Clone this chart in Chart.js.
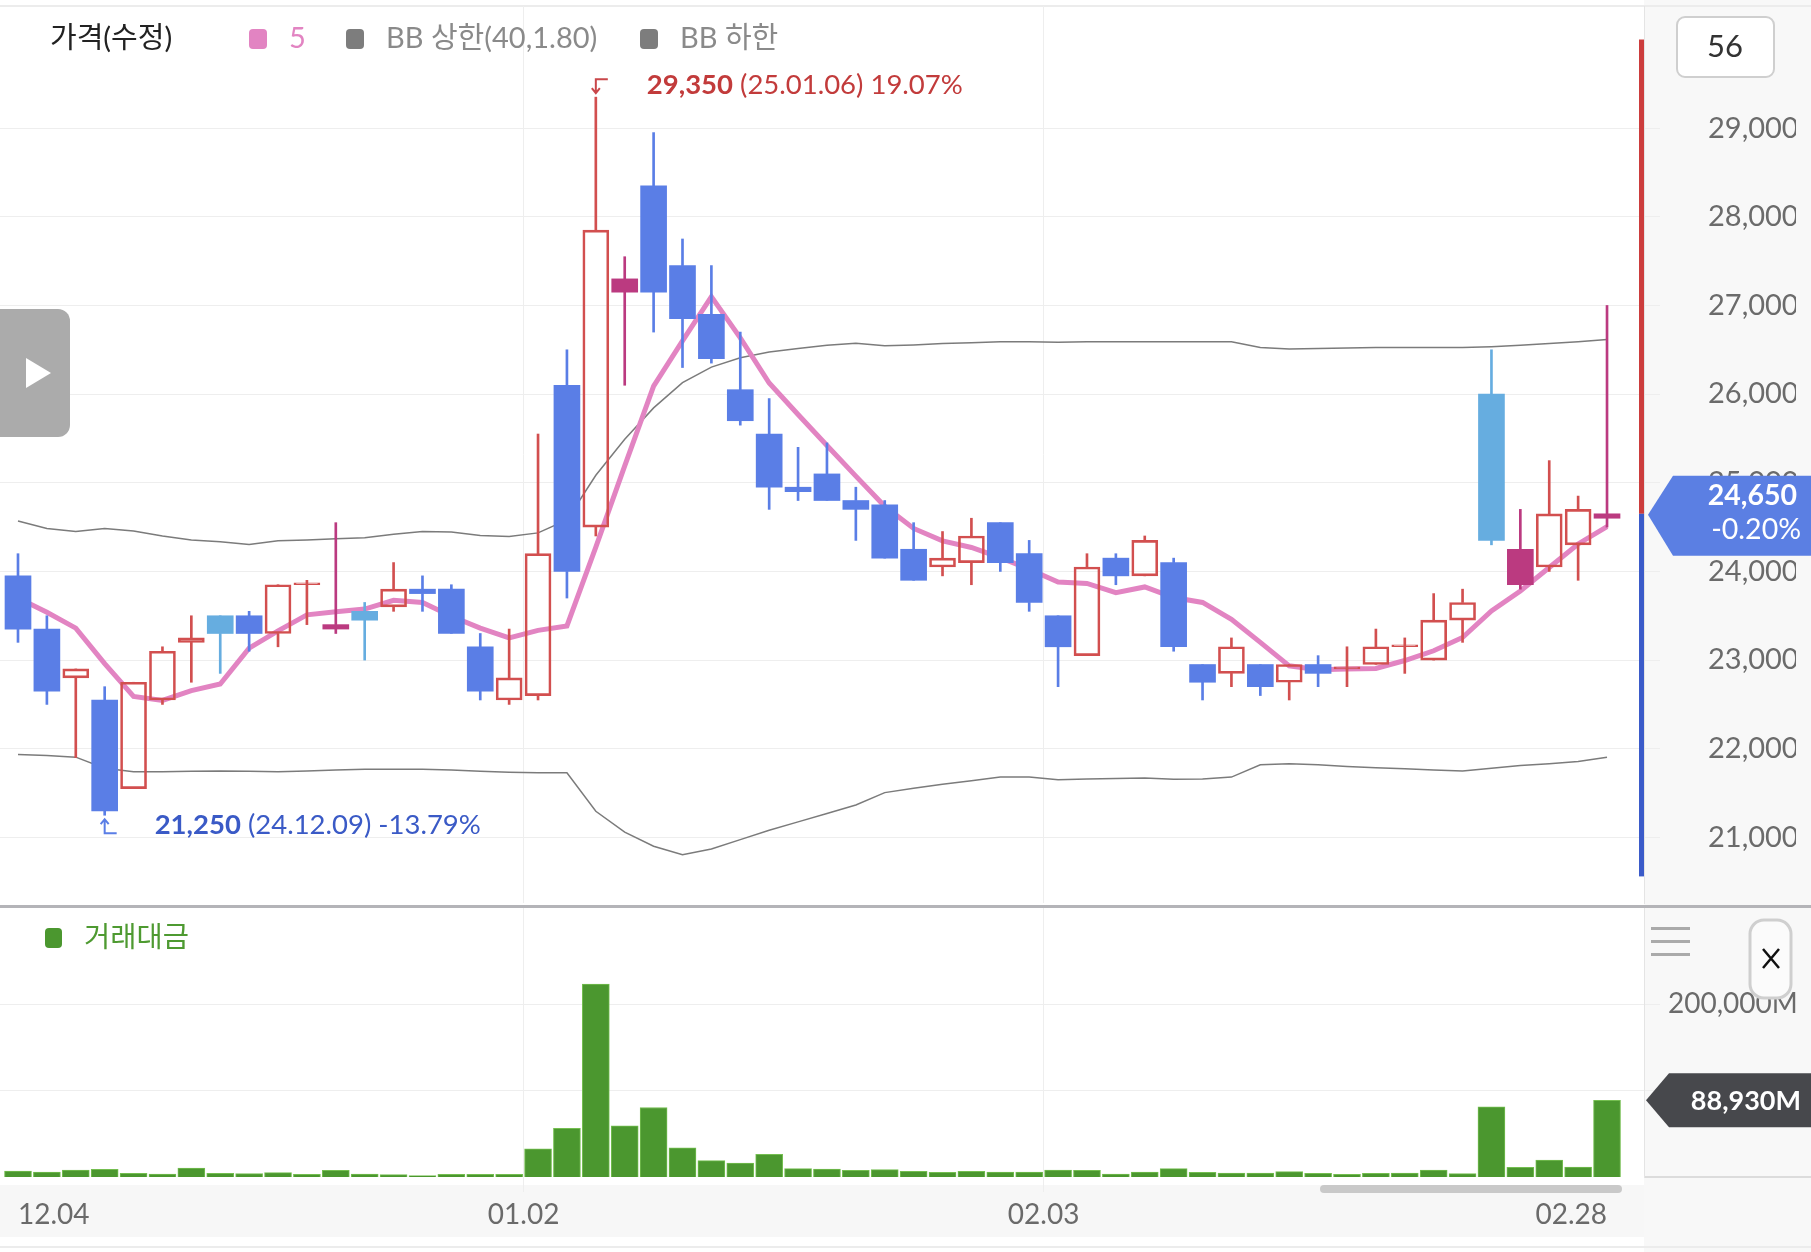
<!DOCTYPE html>
<html lang="ko">
<head>
<meta charset="UTF-8">
<title>가격(수정) - 일봉</title>
<script src="https://cdn.jsdelivr.net/npm/chart.js"></script>
<style>
  body { margin:0; background:#fff; }
  #wrap { position:relative; width:1811px; height:1252px; overflow:hidden; background:#fff; }
  #priceChart { position:absolute; left:0; top:0; }
  #volChart { position:absolute; left:0; top:905px; }
</style>
</head>
<body>
<div id="wrap">
  <canvas id="priceChart" width="1811" height="905"></canvas>
  <canvas id="volChart" width="1811" height="347"></canvas>
</div>
<script>
// 일자 (거래일)
const dates = [
  '24.12.04','24.12.05','24.12.06','24.12.09','24.12.10','24.12.11','24.12.12','24.12.13','24.12.16','24.12.17',
  '24.12.18','24.12.19','24.12.20','24.12.23','24.12.24','24.12.26','24.12.27','24.12.30',
  '25.01.02','25.01.03','25.01.06','25.01.07','25.01.08','25.01.09','25.01.10','25.01.13','25.01.14','25.01.15',
  '25.01.16','25.01.17','25.01.20','25.01.21','25.01.22','25.01.23','25.01.24','25.01.31',
  '25.02.03','25.02.04','25.02.05','25.02.06','25.02.07','25.02.10','25.02.11','25.02.12','25.02.13','25.02.14',
  '25.02.17','25.02.18','25.02.19','25.02.20','25.02.21','25.02.24','25.02.25','25.02.26','25.02.27','25.02.28'
];
const opens = [23950,23350,22800,22550,21550,22550,23200,23500,23500,23300,23850,23350,23550,23600,23800,23800,23150,22550,
  22600,26100,24500,27150,28350,27450,26900,26050,25550,24950,25100,24800,24750,24250,24050,24100,24550,24200,
  23500,23050,24150,23950,24100,22950,22850,22950,22750,22950,22900,22950,23150,23000,23450,26000,23850,24050,24300,24600];
const highs = [24200,23500,22900,22700,22750,23150,23500,23500,23550,23850,23900,24550,23650,24100,23950,23850,23300,23350,
  25550,26500,29350,27550,28950,27750,27450,26700,25950,25400,25450,24950,24800,24550,24450,24600,24550,24350,
  23500,24200,24200,24400,24150,22950,23250,22950,22950,23050,23150,23350,23250,23750,23800,26500,24700,25250,24850,27000];
const lows = [23200,22500,21900,21250,21550,22500,22750,22850,23100,23150,23400,23300,23000,23550,23550,23300,22550,22500,
  22550,23700,24400,26100,26700,26300,26350,25650,24700,24800,24800,24350,24150,23900,23950,23850,24000,23550,
  22700,23050,23850,23950,23100,22550,22700,22600,22550,22700,22700,22950,22850,23000,23200,24300,23800,24000,23900,24500];
const closes = [23350,22650,22900,21300,22750,23100,23250,23300,23300,23850,23850,23400,23450,23800,23750,23300,22650,22800,
  24200,24000,27850,27300,27150,26850,26400,25700,24950,24900,24800,24700,24150,23900,24150,24400,24100,23650,
  23150,24050,23950,24350,23150,22750,23150,22700,22950,22850,22900,23150,23150,23450,23650,24350,24250,24650,24700,24650];

// 이동평균 5, 볼린저 밴드(40, 1.80)
const ma5 = [23700,23540,23360,22960,22590,22545,22655,22730,23135,23330,23510,23545,23575,23675,23650,23495,23360,23250,
  23335,23385,24275,25190,26090,26600,27100,26635,26125,25770,25420,25075,24735,24485,24345,24270,24155,24025,
  23880,23865,23760,23825,23705,23650,23460,23200,22935,22890,22900,22905,22995,23105,23255,23555,23780,24045,24310,24505];
const bbUpper = [24570,24485,24450,24485,24455,24400,24355,24335,24305,24345,24355,24370,24380,24420,24450,24445,24405,24395,
  24435,24580,25085,25490,25845,26130,26305,26410,26475,26515,26550,26575,26545,26555,26570,26580,26590,26590,
  26585,26590,26590,26590,26590,26590,26590,26525,26510,26515,26520,26525,26525,26525,26525,26535,26550,26570,26590,26615];
const bbLower = [21935,21925,21905,21780,21740,21740,21745,21750,21745,21740,21750,21760,21770,21770,21770,21760,21745,21735,
  21730,21730,21295,21060,20900,20805,20870,20975,21080,21175,21270,21365,21505,21555,21600,21640,21680,21680,
  21650,21660,21665,21670,21655,21660,21680,21820,21830,21820,21800,21785,21775,21760,21750,21780,21810,21830,21855,21905];

// 거래대금 (백만원)
const tradeValue = [6960,5800,8100,8900,4250,3480,10450,4250,3870,5030,3090,7740,3480,2700,1550,3090,3090,3090,
  32500,56500,223600,59200,80500,33650,18950,16250,26300,9670,9280,7740,8510,6580,5420,6580,5800,5800,
  8120,7740,3480,5800,9670,5420,4640,4640,6190,4250,3090,4250,4640,8120,3870,81200,11200,19700,11600,88930];

const priceTicks = [21000,22000,23000,24000,25000,26000,27000,28000,29000];
const volumeTicks = [100000,200000];
const xLabelDates = ['24.12.04','25.01.02','25.02.03','25.02.28'];
const rangeHigh = 30000, rangeLow = 20560;

const RED = '#d24f4f', BLUE = '#5a7ee6', LIGHT = '#66ade0', MAGENTA = '#bb3a80', PINK = '#e284c2';
const GREEN = '#4b972f';
const FONT = 'Lato, "Noto Sans CJK KR", sans-serif';

function candleKind(i) {
  const prev = i > 0 ? closes[i-1] : opens[i];
  if (closes[i] < opens[i]) return closes[i] > prev ? 'light' : 'down';
  return closes[i] < prev ? 'mag' : 'up';
}
const kinds = dates.map((_, i) => candleKind(i));
const fillOf = k => ({up:'rgba(0,0,0,0)', down:BLUE, light:LIGHT, mag:MAGENTA})[k];
const lineOf = k => ({up:RED, down:BLUE, light:LIGHT, mag:MAGENTA})[k];
const idx = dates.map((_, i) => i);
const fmt = v => v.toLocaleString('en-US');

const xMin = -0.623, xMax = 56.28;
const boundaryTicks = xLabelDates.slice(1, -1).map(d => dates.indexOf(d) - 0.5);
const volXTicks = [dates.indexOf(xLabelDates[0])].concat(boundaryTicks, [dates.indexOf(xLabelDates[xLabelDates.length-1])]);

function roundRect(ctx, x, y, w, h, r) {
  ctx.beginPath();
  ctx.moveTo(x + r, y);
  ctx.arcTo(x + w, y, x + w, y + h, r);
  ctx.arcTo(x + w, y + h, x, y + h, r);
  ctx.arcTo(x, y + h, x, y, r);
  ctx.arcTo(x, y, x + w, y, r);
  ctx.closePath();
}

const priceOverlay = {
  id: 'priceOverlay',
  beforeDraw(chart) {
    const {ctx, chartArea: a, width, height} = chart;
    ctx.save();
    ctx.fillStyle = '#fff'; ctx.fillRect(0, 0, width, height);
    ctx.fillStyle = '#f8f8f8'; ctx.fillRect(a.right, 0, width - a.right, height);
    ctx.fillStyle = '#ececec'; ctx.fillRect(0, 5, width, 2);
    ctx.restore();
  },
  afterDraw(chart) {
    const {ctx, chartArea: a, scales: {x, y}} = chart;
    const last = closes.length - 1;
    ctx.save();

    // 가격 범위 막대
    const yLast = y.getPixelForValue(closes[last]);
    ctx.fillStyle = '#cc3d3d';
    ctx.fillRect(a.right - 5, y.getPixelForValue(rangeHigh), 5, yLast - y.getPixelForValue(rangeHigh));
    ctx.fillStyle = '#3b5bc9';
    ctx.fillRect(a.right - 5, yLast, 5, y.getPixelForValue(rangeLow) - yLast);

    // 현재가 표시
    ctx.fillStyle = '#5b7fe3';
    ctx.beginPath();
    ctx.moveTo(a.right + 4, yLast + 1);
    ctx.lineTo(1673, yLast - 38);
    ctx.lineTo(1811, yLast - 38);
    ctx.lineTo(1811, yLast + 42);
    ctx.lineTo(1673, yLast + 42);
    ctx.closePath(); ctx.fill();
    const chg = (closes[last] / closes[last-1] - 1) * 100;
    ctx.fillStyle = '#fff';
    ctx.textAlign = 'right'; ctx.textBaseline = 'middle';
    ctx.font = 'bold 28.5px ' + FONT;
    ctx.fillText(fmt(closes[last]), 1797, yLast - 18);
    ctx.font = '28.5px ' + FONT;
    ctx.fillText(chg.toFixed(2) + '%', 1801, yLast + 16);

    // 봉 개수
    roundRect(ctx, 1677, 17, 97, 60, 8);
    ctx.fillStyle = '#fff'; ctx.fill();
    ctx.strokeStyle = '#cfcfcf'; ctx.lineWidth = 2; ctx.stroke();
    ctx.fillStyle = '#333'; ctx.textAlign = 'center';
    ctx.font = '31px ' + FONT;
    ctx.fillText(String(dates.length), 1725, 47);

    // 범례
    ctx.textAlign = 'left';
    ctx.font = '29px ' + FONT;
    ctx.fillStyle = '#222';
    ctx.fillText('가격(수정)', 50, 39);
    const items = [[249, PINK, '5', PINK], [346, '#7d7d7d', 'BB 상한(40,1.80)', '#8a8a8a'], [640, '#7d7d7d', 'BB 하한', '#8a8a8a']];
    items.forEach(([px, sq, txt, col]) => {
      roundRect(ctx, px, 29, 18, 20, 4);
      ctx.fillStyle = sq; ctx.fill();
      ctx.fillStyle = col;
      ctx.fillText(txt, px + 40, 39);
    });

    // 최고가 / 최저가
    const hi = highs.indexOf(Math.max(...highs));
    const lo = lows.indexOf(Math.min(...lows));
    const hx = x.getPixelForValue(hi), hy = y.getPixelForValue(highs[hi]);
    ctx.strokeStyle = '#c9474a'; ctx.lineWidth = 2;
    ctx.beginPath();
    ctx.moveTo(hx + 12, hy - 18); ctx.lineTo(hx, hy - 18); ctx.lineTo(hx, hy - 5);
    ctx.moveTo(hx - 4, hy - 9); ctx.lineTo(hx, hy - 4); ctx.lineTo(hx + 4, hy - 9);
    ctx.stroke();
    const hiTxt = fmt(highs[hi]);
    const hiRest = ' (' + dates[hi] + ') ' + ((highs[hi] / closes[last] - 1) * 100).toFixed(2) + '%';
    ctx.fillStyle = '#c23b3b';
    ctx.font = 'bold 27.5px ' + FONT;
    ctx.fillText(hiTxt, hx + 51, hy - 12);
    let w = ctx.measureText(hiTxt).width;
    ctx.font = '27.5px ' + FONT;
    ctx.fillText(hiRest, hx + 51 + w, hy - 12);

    const lx = x.getPixelForValue(lo), ly = y.getPixelForValue(lows[lo]);
    ctx.strokeStyle = '#5a7ee6';
    ctx.beginPath();
    ctx.moveTo(lx, ly + 5); ctx.lineTo(lx, ly + 18); ctx.lineTo(lx + 12, ly + 18);
    ctx.moveTo(lx - 4, ly + 9); ctx.lineTo(lx, ly + 4); ctx.lineTo(lx + 4, ly + 9);
    ctx.stroke();
    const loTxt = fmt(lows[lo]);
    const loRest = ' (' + dates[lo] + ') ' + ((lows[lo] / closes[last] - 1) * 100).toFixed(2) + '%';
    ctx.fillStyle = '#3a5ac6';
    ctx.font = 'bold 27.5px ' + FONT;
    ctx.fillText(loTxt, lx + 50, ly + 10);
    w = ctx.measureText(loTxt).width;
    ctx.font = '27.5px ' + FONT;
    ctx.fillText(loRest, lx + 50 + w, ly + 10);

    // 재생 버튼
    roundRect(ctx, -14, 309, 84, 128, 12);
    ctx.fillStyle = '#ababab'; ctx.fill();
    ctx.fillStyle = '#fff';
    ctx.beginPath(); ctx.moveTo(26, 358); ctx.lineTo(26, 388); ctx.lineTo(51, 373); ctx.closePath(); ctx.fill();
    ctx.restore();
  }
};

const volOverlay = {
  id: 'volOverlay',
  beforeDraw(chart) {
    const {ctx, chartArea: a, width, height} = chart;
    ctx.save();
    ctx.fillStyle = '#fff'; ctx.fillRect(0, 0, width, height);
    ctx.fillStyle = '#f8f8f8'; ctx.fillRect(a.right, 0, width - a.right, height);
    ctx.fillStyle = '#f7f7f7'; ctx.fillRect(0, 280, a.right, 52);
    ctx.fillStyle = '#dcdcdc'; ctx.fillRect(a.right, a.bottom - 1, width - a.right, 2);
    ctx.fillStyle = '#ececec'; ctx.fillRect(0, 341, width, 2);
    ctx.restore();
  },
  afterDraw(chart) {
    const {ctx, chartArea: a, width, scales: {y}} = chart;
    const last = tradeValue.length - 1;
    ctx.save();
    ctx.fillStyle = '#b4b4b8'; ctx.fillRect(0, 0, width, 3);

    // 범례
    roundRect(ctx, 45, 23, 17, 20, 4);
    ctx.fillStyle = GREEN; ctx.fill();
    ctx.fillStyle = '#4e9a31';
    ctx.font = '28.5px ' + FONT; ctx.textBaseline = 'middle'; ctx.textAlign = 'left';
    ctx.fillText('거래대금', 84, 33);

    // 메뉴 / 닫기
    ctx.fillStyle = '#aaa';
    [22, 35, 48].forEach(yy => ctx.fillRect(1651, yy, 39, 3));
    roundRect(ctx, 1750, 15, 41, 78, 14);
    ctx.fillStyle = '#fbfbfb'; ctx.fill();
    ctx.strokeStyle = '#cfcfcf'; ctx.lineWidth = 3; ctx.stroke();
    ctx.strokeStyle = '#111'; ctx.lineWidth = 2.5;
    ctx.beginPath();
    ctx.moveTo(1763, 44); ctx.lineTo(1779, 63); ctx.moveTo(1779, 44); ctx.lineTo(1763, 63);
    ctx.stroke();

    // 현재 거래대금
    const yv = y.getPixelForValue(tradeValue[last]);
    ctx.fillStyle = '#47484c';
    ctx.beginPath();
    ctx.moveTo(a.right + 2, yv); ctx.lineTo(1669, yv - 27); ctx.lineTo(1811, yv - 27);
    ctx.lineTo(1811, yv + 27); ctx.lineTo(1669, yv + 27); ctx.closePath(); ctx.fill();
    ctx.fillStyle = '#fff'; ctx.textAlign = 'right';
    ctx.font = 'bold 27px ' + FONT;
    ctx.fillText(fmt(tradeValue[last]) + 'M', 1801, yv + 1);

    // 스크롤바
    roundRect(ctx, 1320, 280, 302, 8, 4);
    ctx.fillStyle = '#c9c9c9'; ctx.fill();
    ctx.restore();
  }
};

new Chart(document.getElementById('priceChart'), {
  type: 'bar',
  data: {
    datasets: [
      { type: 'bar', label: 'body', order: 0, grouped: false,
        data: idx.map(i => ({x: i, y: [opens[i], closes[i]]})),
        backgroundColor: kinds.map(fillOf), borderColor: kinds.map(lineOf),
        borderWidth: kinds.map(k => k === 'up' ? 2 : 0), borderSkipped: false,
        barThickness: 26, minBarLength: 2 },
      { type: 'bar', label: 'upper', order: 1, grouped: false,
        data: idx.map(i => ({x: i, y: [Math.max(opens[i], closes[i]), highs[i]]})),
        backgroundColor: kinds.map(lineOf), barThickness: 2 },
      { type: 'bar', label: 'lower', order: 1, grouped: false,
        data: idx.map(i => ({x: i, y: [lows[i], Math.min(opens[i], closes[i])]})),
        backgroundColor: kinds.map(lineOf), barThickness: 2 },
      { type: 'line', label: '5', order: 2, data: idx.map(i => ({x: i, y: ma5[i]})),
        borderColor: PINK, borderWidth: 5, pointRadius: 0, tension: 0 },
      { type: 'line', label: 'BB 상한', order: 3, data: idx.map(i => ({x: i, y: bbUpper[i]})),
        borderColor: '#7b7b7b', borderWidth: 1.5, pointRadius: 0 },
      { type: 'line', label: 'BB 하한', order: 3, data: idx.map(i => ({x: i, y: bbLower[i]})),
        borderColor: '#7b7b7b', borderWidth: 1.5, pointRadius: 0 }
    ]
  },
  options: {
    responsive: false, animation: false, events: [], devicePixelRatio: 1,
    layout: { padding: { top: 6, right: 15, bottom: 2, left: 0 } },
    plugins: { legend: { display: false }, tooltip: { enabled: false } },
    scales: {
      x: {
        type: 'linear', min: xMin, max: xMax, offset: false,
        afterBuildTicks: s => { s.ticks = boundaryTicks.map(v => ({value: v})); },
        ticks: { display: false },
        grid: { color: '#eeeeee', offset: false, drawTicks: false },
        border: { display: false }
      },
      y: {
        position: 'right', min: 20260, max: 30378,
        afterBuildTicks: s => { s.ticks = priceTicks.map(v => ({value: v})); },
        afterFit: s => { s.width = 152; },
        // negative padding keeps the label box from shrinking the plot area; long tick drawn dashed so only 15px shows
        ticks: { callback: v => fmt(v), color: '#6b6b6b', font: { family: 'Lato', size: 29 }, padding: -16 },
        grid: { color: '#eeeeee', tickLength: 80, tickBorderDash: [15, 200] },
        border: { display: true, color: '#e4e4e4' }
      }
    }
  },
  plugins: [priceOverlay]
});

new Chart(document.getElementById('volChart'), {
  type: 'bar',
  data: {
    datasets: [{
      label: '거래대금', grouped: false,
      data: idx.map(i => ({x: i, y: tradeValue[i]})),
      backgroundColor: GREEN, borderColor: '#74be50', borderWidth: 1, barThickness: 27
    }]
  },
  options: {
    responsive: false, animation: false, events: [], devicePixelRatio: 1,
    layout: { padding: { top: 2, right: 15, bottom: 0, left: 0 } },
    plugins: { legend: { display: false }, tooltip: { enabled: false } },
    scales: {
      x: {
        type: 'linear', min: xMin, max: xMax, offset: false,
        afterBuildTicks: s => { s.ticks = volXTicks.map(v => ({value: v})); },
        afterFit: s => { s.height = 75; },
        ticks: {
          callback: v => dates[Math.ceil(v)].slice(3),
          align: 'inner', autoSkip: false, maxRotation: 0,
          color: '#6a6a6a', font: { family: 'Lato', size: 28 }, padding: 6
        },
        grid: {
          offset: false, tickLength: 15,
          color: c => (c.tick && !Number.isInteger(c.tick.value)) ? '#eeeeee' : 'rgba(0,0,0,0)'
        },
        border: { display: false }
      },
      y: {
        position: 'right', min: 0, max: 312750,
        afterBuildTicks: s => { s.ticks = volumeTicks.map(v => ({value: v})); },
        afterFit: s => { s.width = 152; },
        ticks: { callback: v => fmt(v) + 'M', color: '#6b6b6b', font: { family: 'Lato', size: 28 }, padding: -16 },
        grid: { color: '#eeeeee', tickLength: 40, tickBorderDash: [15, 200] },
        border: { display: true, color: '#e4e4e4' }
      }
    }
  },
  plugins: [volOverlay]
});
</script>
</body>
</html>
